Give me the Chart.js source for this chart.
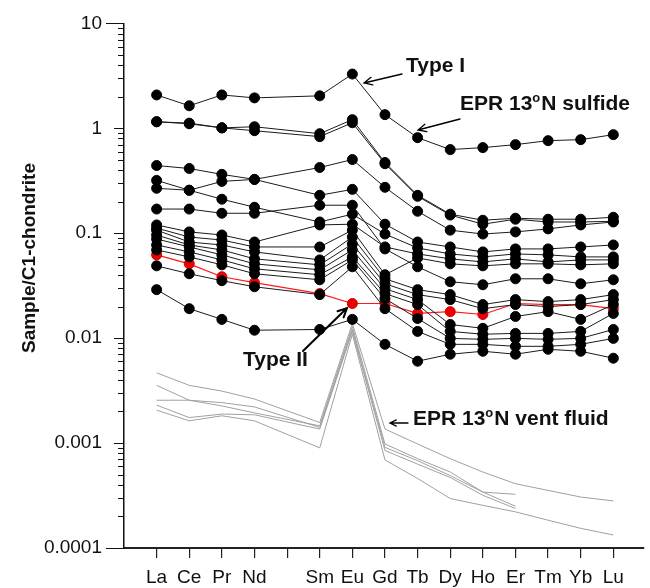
<!DOCTYPE html>
<html><head><meta charset="utf-8">
<script src="https://cdn.jsdelivr.net/npm/chart.js@4/dist/chart.umd.min.js"></script>
<style>html,body{margin:0;padding:0;background:#fff}#wrap{width:650px;height:588px;position:relative}</style>
</head><body><div id="wrap"><canvas id="c" width="650" height="588"></canvas></div>
<script>
// x categories (Pm left empty, as in the original plot)
const tickLabels = ['La','Ce','Pr','Nd','','Sm','Eu','Gd','Tb','Dy','Ho','Er','Tm','Yb','Lu'];
const yTickLabels = ['0.0001','0.001','0.01','0.1','1','10'];

// EPR 13°N sulfide samples (Sample/C1-chondrite)
const sulfide01 = [2.08,1.64,2.08,1.95,null,2.04,3.29,1.35,0.815,0.627,0.655,0.699,0.763,0.780,0.870];
const sulfide02 = [1.155,1.105,1.01,1.035,null,0.889,1.21,0.472,0.230,0.152,0.133,0.139,0.136,0.136,0.142];
const sulfide03 = [1.155,1.12,1.01,0.949,null,0.833,1.13,0.46,0.225,0.149,0.122,0.136,0.128,0.128,0.130];
const sulfide04 = [0.442,0.414,0.364,0.326,null,0.423,0.504,0.274,0.162,0.107,0.0983,0.103,0.110,0.120,0.128];
const sulfide05 = [0.319,0.257,0.211,0.177,null,0.128,0.152,0.0983,0.0724,0.0635,0.0595,0.0635,0.0622,0.0595,0.0595];
const sulfide06 = [0.268,0.257,0.312,0.326,null,0.230,0.262,0.122,0.0825,0.0740,0.0664,0.0709,0.0709,0.0740,0.0773];
const sulfide07 = [0.170,0.170,0.155,0.155,null,0.185,0.185,0.0709,0.0479,0.0345,0.0323,0.0368,0.0368,0.0330,0.0360];
const sulfide08 = [0.120,0.103,0.0962,0.0825,null,0.120,0.122,0.0740,0.0635,0.0570,0.0533,0.0570,0.0533,0.0557,0.0557];
const sulfide09 = [0.112,0.0920,0.0862,0.0740,null,0.0740,0.107,0.0402,0.0582,0.0511,0.0489,0.0511,0.0511,0.0500,0.0511];
const sulfide10 = [0.107,0.0825,0.0773,0.0664,null,0.0557,0.0920,0.0368,0.0290,0.0260,0.0209,0.0233,0.0223,0.0233,0.0260];
const sulfide11 = [0.0962,0.0773,0.0693,0.0570,null,0.0500,0.0790,0.0330,0.0260,0.0233,0.0191,0.0209,0.0200,0.0209,0.0233];
const sulfide12 = [0.0881,0.0740,0.0622,0.0511,null,0.0448,0.0693,0.0296,0.0233,0.0135,0.0124,0.0161,0.0179,0.0151,0.0209];
const sulfide13 = [0.0773,0.0664,0.0557,0.0458,null,0.0402,0.0595,0.0266,0.0209,0.0116,0.0109,0.0111,0.0111,0.0116,0.0172];
const sulfide14 = [0.0693,0.0595,0.0500,0.0411,null,0.0360,0.0557,0.0238,0.0154,0.00995,0.00975,0.00995,0.00975,0.00995,0.0121];
const sulfide15 = [0.0489,0.0411,0.0353,0.0309,null,0.0260,0.0479,0.0191,0.0116,0.00873,0.00873,0.00836,0.00836,0.00873,0.00995];
const sulfide16 = [0.0290,0.0191,0.0151,0.0119,null,0.0121,0.0151,0.00873,0.00603,0.00703,0.00750,0.00703,0.00783,0.00750,0.00644];

// Type II sulfide (red)
const typeII = [0.0622,0.0511,0.0385,0.0338,null,0.0266,0.0214,0.0214,0.0172,0.0179,0.0168,0.0214,0.0209,0.0209,0.0191];

// EPR 13°N vent fluids (grey)
const fluid1 = [0.00467,0.00355,0.00313,0.00263,null,0.00157,0.0138,0.00136,0.00098,0.00071,0.00053,0.00041,0.000354,0.000306,0.000281];
const fluid2 = [0.00355,0.00256,0.00226,0.00194,null,0.00146,0.0129,0.00098,0.00071,0.00053,0.000341,0.000325,null,null,null];
const fluid3 = [0.00256,0.00256,0.00243,0.00221,null,0.00141,0.0121,0.00091,0.00068,0.00049,0.000341,0.00025,null,null,null];
const fluid4 = [0.00230,0.00175,0.00189,0.00186,null,0.00136,0.0116,0.00085,0.00063,0.00047,0.000318,0.000238,null,null,null];
const fluid5 = [0.00206,0.00163,0.00182,0.00163,null,0.00090,0.0109,0.00069,0.00046,0.000296,0.000255,0.000221,0.000184,0.000154,0.000133];

const sulfides = [sulfide01,sulfide02,sulfide03,sulfide04,sulfide05,sulfide06,sulfide07,sulfide08,
  sulfide09,sulfide10,sulfide11,sulfide12,sulfide13,sulfide14,sulfide15,sulfide16];
const fluids = [fluid1,fluid2,fluid3,fluid4,fluid5];

const FONT = '"Liberation Sans", Arial, sans-serif';
const toPts = arr => arr.map((v,i)=> v==null ? null : {x:i, y:v}).filter(p=>p);

const datasets = [];
sulfides.forEach((s,k)=>datasets.push({
  label:'sulfide '+(k+1), data:toPts(s), borderColor:'#1a1a1a', borderWidth:1,
  pointRadius:5, pointBackgroundColor:'#000', pointBorderColor:'#000', pointBorderWidth:1,
  fill:false, tension:0
}));
datasets.push({label:'Type II', data:toPts(typeII), borderColor:'#ff1a1a', borderWidth:1.2,
  pointRadius:5, pointBackgroundColor:'#ee0000', pointBorderColor:'#cc0000', pointBorderWidth:1, fill:false});
fluids.forEach((f,k)=>datasets.push({label:'fluid '+(k+1), data:toPts(f), borderColor:'#a0a0a0',
  borderWidth:1, pointRadius:0, fill:false}));

function arrow(ctx, x1,y1,x2,y2, w, head){
  const a = Math.atan2(y2-y1,x2-x1);
  ctx.save(); ctx.strokeStyle='#000'; ctx.lineWidth=w; ctx.lineCap='round';
  ctx.beginPath(); ctx.moveTo(x1,y1); ctx.lineTo(x2,y2);
  ctx.moveTo(x2 - head*Math.cos(a-0.45), y2 - head*Math.sin(a-0.45));
  ctx.lineTo(x2,y2);
  ctx.lineTo(x2 - head*Math.cos(a+0.45), y2 - head*Math.sin(a+0.45));
  ctx.stroke(); ctx.restore();
}
function supText(ctx, x, y, parts){
  let cx = x;
  parts.forEach(([t,sup])=>{
    ctx.font = sup ? 'bold 13px '+FONT : 'bold 21px '+FONT;
    ctx.fillText(t, cx, sup ? y-8 : y);
    cx += ctx.measureText(t).width + (sup?1:0);
  });
}

const decor = {
  id:'decor',
  afterDraw(chart){
    const ctx = chart.ctx, s = chart.scales.y;
    ctx.save();
    ctx.strokeStyle = '#111'; ctx.lineWidth = 1;
    s.ticks.forEach(t=>{
      const p = Math.round(s.getPixelForValue(t.value)) + 0.5;
      const lg = Math.log10(t.value);
      const major = Math.abs(lg - Math.round(lg)) < 1e-6;
      const isEnd = Math.abs(t.value - s.min) < 1e-12 || Math.abs(t.value - s.max) < 1e-9;
      const len = major ? (isEnd ? 18 : 10) : 6;
      ctx.beginPath(); ctx.moveTo(s.right - len, p); ctx.lineTo(s.right, p); ctx.stroke();
    });
    ctx.fillStyle = '#111';
    ctx.save(); ctx.translate(30, 258); ctx.rotate(-Math.PI/2);
    ctx.font = 'bold 19px '+FONT; ctx.textAlign='center'; ctx.textBaseline='middle';
    ctx.fillText('Sample/C1-chondrite', 0, 0); ctx.restore();
    ctx.textAlign='left'; ctx.textBaseline='alphabetic';
    ctx.font = 'bold 21px '+FONT;
    ctx.fillText('Type I', 406, 72);
    arrow(ctx, 402,74, 364,83, 1.3, 9);
    supText(ctx, 460, 110, [['EPR 13',false],['o',true],['N sulfide',false]]);
    arrow(ctx, 460,119, 418,130, 1.3, 9);
    ctx.font = 'bold 21px '+FONT;
    ctx.fillText('Type II', 243, 366);
    arrow(ctx, 303,351, 347,308, 2, 10);
    supText(ctx, 413, 425, [['EPR 13',false],['o',true],['N vent fluid',false]]);
    arrow(ctx, 408,423, 390,423, 1.3, 7);
    ctx.restore();
  }
};

new Chart(document.getElementById('c'), {
  type:'line',
  data:{datasets},
  options:{
    responsive:false, animation:false, devicePixelRatio:1,
    layout:{padding:{top:20,left:0,right:0,bottom:0}},
    plugins:{legend:{display:false}, tooltip:{enabled:false}},
    elements:{line:{borderJoinStyle:'round'}},
    scales:{
      x:{type:'linear', position:'bottom', min:-1, max:14.94,
        afterBuildTicks:(sc)=>{ sc.ticks = tickLabels.map((_,i)=>({value:i})); },
        afterFit:(sc)=>{ sc.height = 40; },
        grid:{drawOnChartArea:false, drawTicks:true, tickLength:10, color:'#222', lineWidth:1.2},
        border:{display:true, color:'#222', width:2},
        ticks:{autoSkip:false, maxRotation:0, padding:8, color:'#111',
          font:{family:FONT, size:19},
          callback:(v)=> tickLabels[v] ?? ''}
      },
      y:{type:'logarithmic', position:'left', min:0.0001, max:10,
        afterBuildTicks:(sc)=>{
          const t=[];
          for(let e=-4;e<=1;e++){ for(let m=1;m<=9;m++){ const v=+(m*Math.pow(10,e)).toPrecision(6); if(v>10.00001) break; t.push({value:v}); } }
          sc.ticks=t;
        },
        afterFit:(sc)=>{ sc.width = 124; },
        grid:{drawOnChartArea:false, drawTicks:true, tickLength:10, color:'rgba(0,0,0,0)'},
        border:{display:true, color:'#111', width:1.5},
        ticks:{autoSkip:false, padding:12, color:'#111', font:{family:FONT, size:19},
          callback:(v)=>{ const lg=Math.log10(v); const r=Math.round(lg); return Math.abs(lg-r)<1e-6 ? yTickLabels[r+4] : ''; }}
      }
    }
  },
  plugins:[decor]
});
</script></body></html>
